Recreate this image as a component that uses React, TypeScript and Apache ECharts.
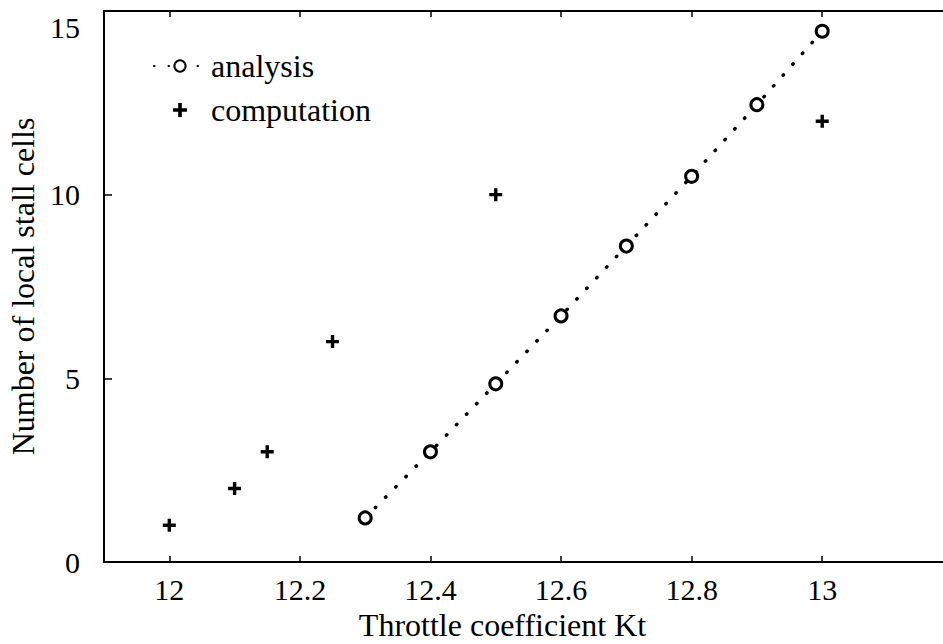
import React, { useEffect, useRef } from "react";
import * as echarts from "echarts";

const analysisX = [12.3, 12.4, 12.5, 12.6, 12.7, 12.8, 12.9, 13.0];
const analysisY = [1.2, 3.0, 4.85, 6.7, 8.6, 10.5, 12.45, 14.45];
const computationX = [12.0, 12.1, 12.15, 12.25, 12.5, 13.0];
const computationY = [1.0, 2.0, 3.0, 6.0, 10.0, 12.0];
const xTicks = [12, 12.2, 12.4, 12.6, 12.8, 13];
const yTicks = [0, 5, 10, 15];

const FONT = "Liberation Serif";
const PLUS =
  "path://M-1.3,-5 L1.3,-5 L1.3,-1.3 L5,-1.3 L5,1.3 L1.3,1.3 L1.3,5 L-1.3,5 L-1.3,1.3 L-5,1.3 L-5,-1.3 L-1.3,-1.3 Z";

export default function App() {
  const ref = useRef<HTMLDivElement>(null);
  useEffect(() => {
    if (!ref.current) return;
    const chart = echarts.init(ref.current, null, { renderer: "svg" });
    const axisLine = { show: true, lineStyle: { color: "#000", width: 2 } };
    chart.setOption({
      animation: false,
      backgroundColor: "#fff",
      textStyle: { fontFamily: FONT, color: "#000" },
      grid: { left: 104, right: 0, top: 11, bottom: 82, outerBoundsMode: "none", containLabel: false },
      legend: {
        orient: "vertical",
        left: 148,
        top: 45,
        itemWidth: 52,
        itemHeight: 14,
        itemGap: 12,
        textStyle: { fontFamily: FONT, fontSize: 32, color: "#000" },
        data: ["analysis", "computation"],
      },
      xAxis: [
        {
          type: "value",
          min: 11.9,
          max: 13.185,
          position: "bottom",
          axisLine,
          splitLine: { show: false },
          axisTick: { show: true, inside: true, length: 6, customValues: xTicks, lineStyle: { color: "#000", width: 1.5 } },
          axisLabel: {
            customValues: xTicks,
            formatter: (v: number) => String(Math.round(v * 10) / 10),
            fontFamily: FONT,
            fontSize: 30,
            color: "#000",
            margin: 12,
          },
          name: "Throttle coefficient Kt",
          nameLocation: "middle",
          nameGap: 47,
          nameTextStyle: { fontFamily: FONT, fontSize: 32, color: "#000", padding: [0, 42, 0, 0] },
        },
        {
          type: "value",
          min: 11.9,
          max: 13.185,
          position: "top",
          axisLine,
          splitLine: { show: false },
          axisTick: { show: true, inside: true, length: 6, customValues: xTicks, lineStyle: { color: "#000", width: 1.5 } },
          axisLabel: { show: false },
        },
      ],
      yAxis: {
        type: "value",
        min: 0,
        max: 15,
        interval: 5,
        axisLine,
        splitLine: { show: false },
        axisTick: { show: true, inside: true, length: 8, customValues: yTicks, lineStyle: { color: "#000", width: 1.5 } },
        axisLabel: {
          fontFamily: FONT,
          fontSize: 30,
          color: "#000",
          margin: 24,
          formatter: (v: number) => (v === 15 ? "{t|15}" : String(v)),
          rich: { t: { fontFamily: FONT, fontSize: 30, color: "#000", padding: [32, 0, 0, 0] } },
        },
        name: "Number of local stall cells",
        nameLocation: "middle",
        nameGap: 62,
        nameTextStyle: { fontFamily: FONT, fontSize: 32, color: "#000" },
      },
      series: [
        {
          name: "analysis",
          type: "line",
          data: analysisX.map((x, i) => [x, analysisY[i]]),
          symbol: "circle",
          symbolSize: 12,
          showAllSymbol: true,
          itemStyle: { color: "#fff", borderColor: "#000", borderWidth: 3, opacity: 1 },
          lineStyle: { color: "#000", width: 3.5, type: [0.5, 14], cap: "round" },
          z: 3,
        },
        {
          name: "computation",
          type: "scatter",
          data: computationX.map((x, i) => [x, computationY[i]]),
          symbol: PLUS,
          symbolSize: 13,
          itemStyle: { color: "#000", opacity: 1 },
        },
      ],
    });
    return () => chart.dispose();
  }, []);
  return <div ref={ref} style={{ width: 943, height: 644, position: "absolute", left: 0, top: 0 }} />;
}
